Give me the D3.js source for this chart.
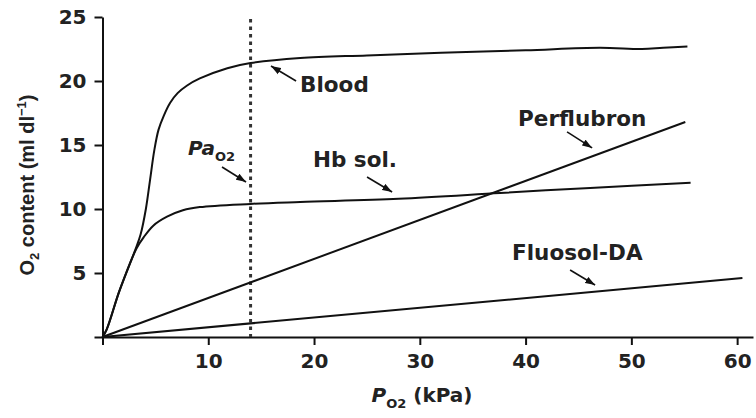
<!DOCTYPE html>
<html>
<head>
<meta charset="utf-8">
<title>O2 content</title>
<style>
  body { margin: 0; background: #fff; }
  svg { display: block; background: #fff; }
  .axis path, .axis line { stroke: #111; stroke-width: 2px; }
  .axis text { font-family: "DejaVu Sans"; font-weight: bold; font-size: 20px; fill: #222; }
  .curve { fill: none; stroke: #111; stroke-width: 2px; }
  .lbl { font-family: "DejaVu Sans"; font-weight: bold; font-size: 20px; fill: #222; }
  .big { font-size: 21.5px; }
  .arrow { stroke: #111; stroke-width: 1.6px; }
</style>
<script src="https://cdn.jsdelivr.net/npm/d3@7"></script>
</head>
<body>
<div id="chart"></div>
<script>
var width = 756, height = 418;

var xTicks = [0, 10, 20, 30, 40, 50, 60];
var yTicks = [0, 5, 10, 15, 20, 25];

// [PO2 kPa, O2 content ml/dl]
var blood = [[0, 0], [0.4, 0.6], [1.6, 3.6], [3.1, 6.8], [3.6, 8.0], [4.1, 10], [4.5, 12.3],
  [4.9, 14.6], [5.3, 16.2], [5.8, 17.3], [6.4, 18.3], [7.1, 19.05], [8, 19.65], [9.2, 20.2],
  [11.8, 21], [14, 21.4], [18.7, 21.8], [25, 22.0], [32, 22.2], [40, 22.4], [47, 22.6],
  [51, 22.5], [53, 22.6], [55.3, 22.7]];
var hbSol = [[0, 0], [0.4, 0.6], [1.6, 3.6], [3.2, 6.9], [3.9, 7.8], [4.8, 8.7], [6.1, 9.4],
  [7.6, 9.9], [9.2, 10.15], [14, 10.4], [18.7, 10.55], [28, 10.8], [37.6, 11.25], [46.1, 11.65], [55.6, 12.05]];
var perflubron = [[0, 0], [55.1, 16.8]];
var fluosol = [[0, 0], [60.5, 4.6]];
var paO2 = 14;

var labels = [
  {text: 'Blood', x: 18.68, y: 19.14},
  {text: 'Hb sol.', x: 19.9, y: 13.28},
  {text: 'Perflubron', x: 39.29, y: 16.48},
  {text: 'Fluosol-DA', x: 38.72, y: 6.02}
];
var arrows = [
  {from: [18.3, 20.0], to: [15.93, 21.17]},
  {from: [25.01, 12.5], to: [27.38, 11.33]},
  {from: [11.3, 13.28], to: [13.57, 12.11]},
  {from: [43.92, 16.02], to: [46.29, 14.77]},
  {from: [44.21, 5.23], to: [46.57, 4.06]}
];

var svg = d3.select('#chart').append('svg')
  .attr('width', width)
  .attr('height', height);

var xScale = d3.scaleLinear().domain([0, 61.5]).range([102.5, 753]);
var yScale = d3.scaleLinear().domain([0, 25]).range([337, 17]);

var defs = svg.append('defs');
defs.append('marker')
  .attr('id', 'head')
  .attr('viewBox', '0 0 10 8')
  .attr('refX', 10).attr('refY', 4)
  .attr('markerWidth', 10).attr('markerHeight', 8)
  .attr('markerUnits', 'userSpaceOnUse')
  .attr('orient', 'auto')
  .append('path')
  .attr('d', 'M0,0.5 L10,4 L0,7.5 Z')
  .attr('fill', '#111');

// axes
var hideZero = function(d) { return d === 0 ? '' : d; };
svg.append('g').attr('class', 'axis')
  .attr('transform', 'translate(0,' + yScale(0) + ')')
  .call(d3.axisBottom(xScale).tickValues(xTicks).tickSize(8).tickSizeOuter(0).tickPadding(9).tickFormat(hideZero));
svg.append('g').attr('class', 'axis')
  .attr('transform', 'translate(' + xScale(0) + ',0)')
  .call(d3.axisLeft(yScale).tickValues(yTicks).tickSize(8).tickSizeOuter(0).tickPadding(8).tickFormat(hideZero));

// PaO2 dotted line
svg.append('line')
  .attr('x1', xScale(paO2)).attr('x2', xScale(paO2))
  .attr('y1', yScale(24.85)).attr('y2', yScale(0))
  .attr('stroke', '#333').attr('stroke-width', 3)
  .attr('stroke-dasharray', '3.5,4');

var line = d3.line()
  .x(function(d) { return xScale(d[0]); })
  .y(function(d) { return yScale(d[1]); })
  .curve(d3.curveCatmullRom.alpha(0.5));

[blood, hbSol, perflubron, fluosol].forEach(function(s) {
  svg.append('path').attr('class', 'curve').attr('d', line(s));
});

// labels and arrows
svg.selectAll('.lbl-t').data(labels).enter().append('text')
  .attr('class', 'lbl big')
  .attr('x', function(d) { return xScale(d.x); })
  .attr('y', function(d) { return yScale(d.y); })
  .text(function(d) { return d.text; });

svg.selectAll('.arrow').data(arrows).enter().append('line')
  .attr('class', 'arrow')
  .attr('x1', function(d) { return xScale(d.from[0]); })
  .attr('y1', function(d) { return yScale(d.from[1]); })
  .attr('x2', function(d) { return xScale(d.to[0]); })
  .attr('y2', function(d) { return yScale(d.to[1]); })
  .attr('marker-end', 'url(#head)');

var pa = svg.append('text').attr('class', 'lbl')
  .attr('x', xScale(8.09)).attr('y', yScale(14.22));
pa.append('tspan').attr('font-style', 'italic').text('Pa');
pa.append('tspan').attr('font-size', 13).attr('dy', 6).text('O2');

// axis titles
var xt = svg.append('text').attr('class', 'lbl')
  .attr('x', 422).attr('y', 402)
  .attr('text-anchor', 'middle');
xt.append('tspan').attr('font-style', 'italic').text('P');
xt.append('tspan').attr('font-size', 13).attr('dy', 6).text('O2');
xt.append('tspan').attr('dy', -6).text(' (kPa)');

var yt = svg.append('text')
  .attr('transform', 'translate(34,185) rotate(-90)')
  .attr('text-anchor', 'middle')
  .style('font-family', '"Liberation Sans"')
  .style('font-weight', 'bold')
  .style('font-size', '20px')
  .style('fill', '#222');
yt.append('tspan').text('O');
yt.append('tspan').attr('font-size', 13).attr('dy', 5).text('2');
yt.append('tspan').attr('dy', -5).text(' content (ml dl');
yt.append('tspan').attr('font-size', 13).attr('dy', -8).text('\u22121');
yt.append('tspan').attr('dy', 8).text(')');
</script>
</body>
</html>
